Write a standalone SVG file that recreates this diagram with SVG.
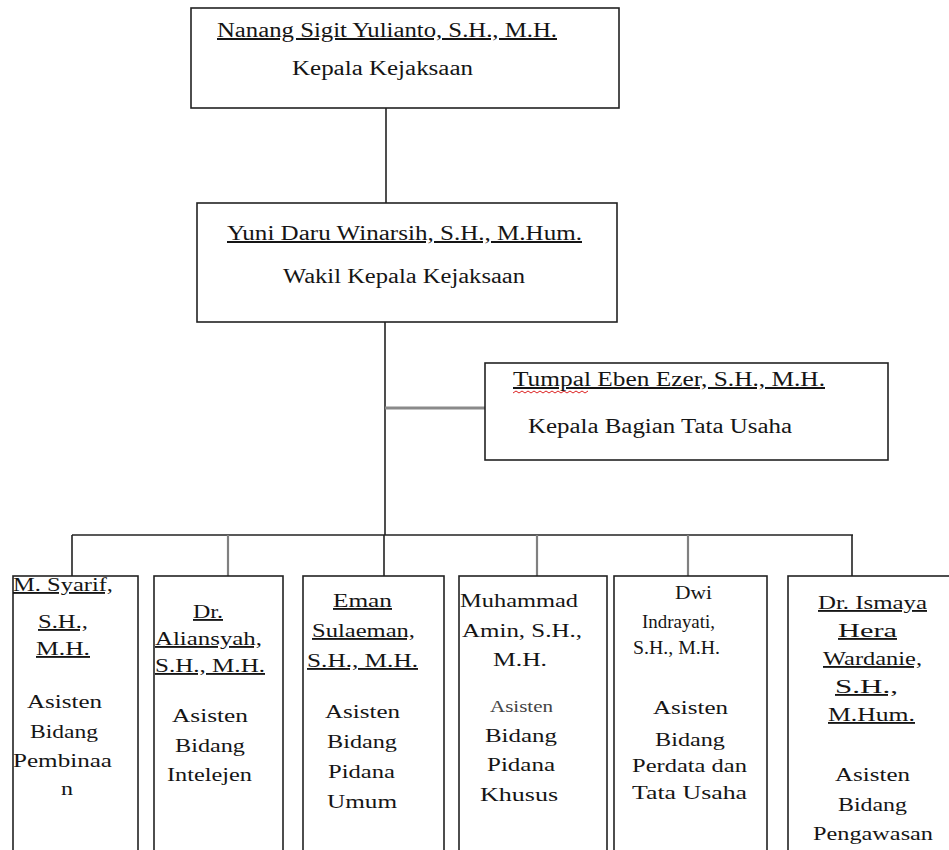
<svg xmlns="http://www.w3.org/2000/svg" width="949" height="850" viewBox="0 0 949 850" font-family="'Liberation Serif', 'Times New Roman', serif">
<style>
.box{fill:#fff;stroke:#222;stroke-width:1.6}
.ln{stroke:#222;stroke-width:1.6;fill:none}
.gl{stroke:#808080;stroke-width:2.2;fill:none}
</style>
<rect width="949" height="850" fill="#fff"/>
<g id="connectors">
<line class="ln" x1="386" y1="108" x2="386" y2="203"/>
<line class="ln" x1="385" y1="322" x2="385" y2="535"/>
<line x1="385" y1="408" x2="485" y2="408" stroke="#8a8a8a" stroke-width="3"/>
<line class="ln" x1="72" y1="535" x2="853" y2="535"/>
<line class="ln" x1="72" y1="535" x2="72" y2="576"/>
<line class="gl" x1="228" y1="535" x2="228" y2="576"/>
<line class="ln" x1="384" y1="535" x2="384" y2="576"/>
<line class="gl" x1="537" y1="535" x2="537" y2="576"/>
<line class="gl" x1="688" y1="535" x2="688" y2="576"/>
<line class="ln" x1="852" y1="535" x2="852" y2="576"/>
</g>
<g id="kepala" font-family="'Liberation Serif', 'Times New Roman', serif" font-size="20" fill="#151515">
<rect class="box" x="191" y="8" width="428" height="100"/>
<text x="217" y="37" text-decoration="underline" textLength="340" lengthAdjust="spacingAndGlyphs">Nanang Sigit Yulianto, S.H., M.H.</text>
<text x="292" y="75" textLength="181" lengthAdjust="spacingAndGlyphs">Kepala Kejaksaan</text>
</g>
<g id="wakil" font-family="'Liberation Serif', 'Times New Roman', serif" font-size="20" fill="#151515">
<rect class="box" x="197" y="203" width="420" height="119"/>
<text x="227" y="240" text-decoration="underline" textLength="355" lengthAdjust="spacingAndGlyphs">Yuni Daru Winarsih, S.H., M.Hum.</text>
<text x="283" y="283" textLength="242" lengthAdjust="spacingAndGlyphs">Wakil Kepala Kejaksaan</text>
</g>
<g id="tatausaha" font-family="'Liberation Serif', 'Times New Roman', serif" font-size="20" fill="#151515">
<rect class="box" x="485" y="363" width="403" height="97"/>
<text x="513" y="386" text-decoration="underline" textLength="312" lengthAdjust="spacingAndGlyphs">Tumpal Eben Ezer, S.H., M.H.</text>
<path d="M513 393 l3 -2 l3 2 l3 -2 l3 2 l3 -2 l3 2 l3 -2 l3 2 l3 -2 l3 2 l3 -2 l3 2 l3 -2 l3 2 l3 -2 l3 2 l3 -2 l3 2 l3 -2 l3 2 l3 -2 l3 2 l3 -2 l3 2 l3 -2" fill="none" stroke="#d22" stroke-width="1"/>
<text x="528" y="433" textLength="264" lengthAdjust="spacingAndGlyphs">Kepala Bagian Tata Usaha</text>
</g>
<g id="pembinaan" font-family="'Liberation Serif', 'Times New Roman', serif" font-size="18.5" fill="#151515">
<rect class="box" x="13" y="576" width="125" height="290"/>
<text x="13" y="591" text-decoration="underline" textLength="100" lengthAdjust="spacingAndGlyphs">M. Syarif,</text>
<text x="38" y="628" text-decoration="underline" textLength="50" lengthAdjust="spacingAndGlyphs">S.H.,</text>
<text x="36" y="655" text-decoration="underline" textLength="54" lengthAdjust="spacingAndGlyphs">M.H.</text>
<text x="27" y="708" textLength="75" lengthAdjust="spacingAndGlyphs">Asisten</text>
<text x="30" y="738" textLength="68" lengthAdjust="spacingAndGlyphs">Bidang</text>
<text x="13" y="767" textLength="99" lengthAdjust="spacingAndGlyphs">Pembinaa</text>
<text x="61" y="795" textLength="12" lengthAdjust="spacingAndGlyphs">n</text>
</g>
<g id="intelejen" font-family="'Liberation Serif', 'Times New Roman', serif" font-size="18.5" fill="#151515">
<rect class="box" x="154" y="576" width="129" height="290"/>
<text x="193" y="618" text-decoration="underline" textLength="30" lengthAdjust="spacingAndGlyphs">Dr.</text>
<text x="155" y="645" text-decoration="underline" textLength="107" lengthAdjust="spacingAndGlyphs">Aliansyah,</text>
<text x="155" y="672" text-decoration="underline" textLength="110" lengthAdjust="spacingAndGlyphs">S.H., M.H.</text>
<text x="172" y="722" textLength="76" lengthAdjust="spacingAndGlyphs">Asisten</text>
<text x="175" y="752" textLength="70" lengthAdjust="spacingAndGlyphs">Bidang</text>
<text x="167" y="781" textLength="85" lengthAdjust="spacingAndGlyphs">Intelejen</text>
</g>
<g id="pidum" font-family="'Liberation Serif', 'Times New Roman', serif" font-size="18.5" fill="#151515">
<rect class="box" x="303" y="576" width="141" height="290"/>
<text x="333" y="607" text-decoration="underline" textLength="59" lengthAdjust="spacingAndGlyphs">Eman</text>
<text x="312" y="637" text-decoration="underline" textLength="103" lengthAdjust="spacingAndGlyphs">Sulaeman,</text>
<text x="307" y="667" text-decoration="underline" textLength="111" lengthAdjust="spacingAndGlyphs">S.H., M.H.</text>
<text x="325" y="718" textLength="75" lengthAdjust="spacingAndGlyphs">Asisten</text>
<text x="327" y="748" textLength="70" lengthAdjust="spacingAndGlyphs">Bidang</text>
<text x="328" y="778" textLength="67" lengthAdjust="spacingAndGlyphs">Pidana</text>
<text x="327" y="808" textLength="70" lengthAdjust="spacingAndGlyphs">Umum</text>
</g>
<g id="pidsus" font-family="'Liberation Serif', 'Times New Roman', serif" font-size="18.5" fill="#151515">
<rect class="box" x="459" y="576" width="148" height="290"/>
<text x="460" y="607" textLength="118" lengthAdjust="spacingAndGlyphs">Muhammad</text>
<text x="462" y="637" textLength="120" lengthAdjust="spacingAndGlyphs">Amin, S.H.,</text>
<text x="493" y="666" textLength="54" lengthAdjust="spacingAndGlyphs">M.H.</text>
<text x="490" y="712" font-size="16" fill="#444" textLength="63" lengthAdjust="spacingAndGlyphs">Asisten</text>
<text x="485" y="742" textLength="72" lengthAdjust="spacingAndGlyphs">Bidang</text>
<text x="487" y="771" textLength="68" lengthAdjust="spacingAndGlyphs">Pidana</text>
<text x="480" y="801" textLength="78" lengthAdjust="spacingAndGlyphs">Khusus</text>
</g>
<g id="perdata" font-family="'Liberation Serif', 'Times New Roman', serif" font-size="18.5" fill="#151515">
<rect class="box" x="614" y="576" width="153" height="290"/>
<text x="675" y="599" textLength="37" lengthAdjust="spacingAndGlyphs">Dwi</text>
<text x="642" y="628" textLength="73" lengthAdjust="spacingAndGlyphs">Indrayati,</text>
<text x="633" y="654" textLength="87" lengthAdjust="spacingAndGlyphs">S.H., M.H.</text>
<text x="653" y="714" textLength="75" lengthAdjust="spacingAndGlyphs">Asisten</text>
<text x="655" y="746" textLength="70" lengthAdjust="spacingAndGlyphs">Bidang</text>
<text x="632" y="772" textLength="115" lengthAdjust="spacingAndGlyphs">Perdata dan</text>
<text x="632" y="799" textLength="115" lengthAdjust="spacingAndGlyphs">Tata Usaha</text>
</g>
<g id="pengawasan" font-family="'Liberation Serif', 'Times New Roman', serif" font-size="18.5" fill="#151515">
<rect class="box" x="788" y="576" width="170" height="290"/>
<text x="818" y="609" text-decoration="underline" textLength="109" lengthAdjust="spacingAndGlyphs">Dr. Ismaya</text>
<text x="838" y="637" text-decoration="underline" textLength="59" lengthAdjust="spacingAndGlyphs">Hera</text>
<text x="823" y="665" text-decoration="underline" textLength="99" lengthAdjust="spacingAndGlyphs">Wardanie,</text>
<text x="835" y="693" text-decoration="underline" textLength="63" lengthAdjust="spacingAndGlyphs">S.H.,</text>
<text x="828" y="721" text-decoration="underline" textLength="87" lengthAdjust="spacingAndGlyphs">M.Hum.</text>
<text x="835" y="781" textLength="75" lengthAdjust="spacingAndGlyphs">Asisten</text>
<text x="838" y="811" textLength="69" lengthAdjust="spacingAndGlyphs">Bidang</text>
<text x="813" y="840" textLength="120" lengthAdjust="spacingAndGlyphs">Pengawasan</text>
</g>
</svg>
